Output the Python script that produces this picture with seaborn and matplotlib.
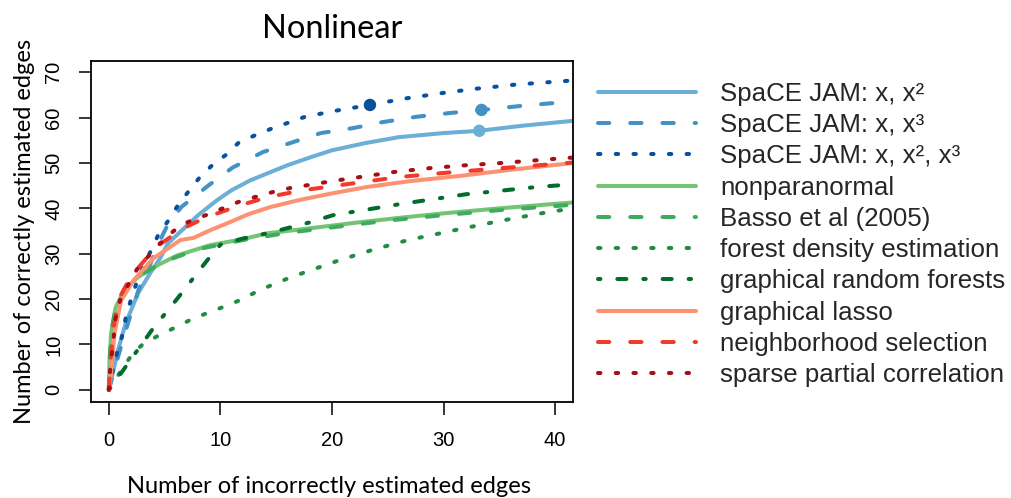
import matplotlib
matplotlib.use("Agg")
import matplotlib.pyplot as plt
import seaborn as sns
import pandas as pd

# ---------------- data ----------------
labels = [
    "SpaCE JAM: x, x\u00b2",
    "SpaCE JAM: x, x\u00b3",
    "SpaCE JAM: x, x\u00b2, x\u00b3",
    "nonparanormal",
    "Basso et al (2005)",
    "forest density estimation",
    "graphical random forests",
    "graphical lasso",
    "neighborhood selection",
    "sparse partial correlation",
]

jam_x2_x = [0, 0.2, 0.8, 1.5, 2.6, 3.75, 4.6, 5.3, 6.7, 8, 9.7, 11, 12.7, 14.5, 16, 18, 20, 23, 26, 30, 33.2, 37, 41.6]
jam_x2_y = [0, 2, 8.6, 14.6, 21.2, 25.9, 29, 32.3, 35.5, 38.5, 41.8, 44, 46.2, 48, 49.5, 51.2, 52.8, 54.4, 55.7, 56.6, 57.1, 58.2, 59.3]

jam_x3_x = [0, 0.5, 1.5, 2.7, 3.6, 4.4, 5.3, 6.5, 8.9, 11.1, 13.8, 16.5, 19, 21.9, 24.5, 27.6, 30.5, 33.4, 37, 41.6]
jam_x3_y = [0, 4.5, 13, 22.3, 27, 32, 36.5, 40.3, 45, 49, 52.4, 54.6, 56.6, 57.7, 59, 60.2, 61, 61.7, 62.6, 63.6]

jam_x23_x = [0, 0.35, 0.7, 1.15, 1.5, 1.9, 2.4, 3.0, 3.7, 4.4, 5.3, 6.2, 7.1, 8.1, 9.3, 10.5, 11.6, 13, 14.5, 16.1, 17.6, 20.5, 23.4, 26.5, 30.1, 33, 36.5, 41.6]
jam_x23_y = [0, 4.2, 7.9, 11.5, 15.7, 19.2, 23, 26.8, 30.3, 34, 37.2, 40.7, 43.6, 46.7, 49.6, 51.8, 54.4, 56, 57.5, 58.9, 60.2, 61.6, 62.8, 64.2, 65.5, 66.4, 67.3, 68.2]

npn_x = [0, 0.05, 0.2, 0.6, 1.35, 2.6, 4, 6.1, 9.1, 12, 14.2, 18, 22, 26, 30, 35, 41.6]
npn_y = [0, 6, 12.4, 18.1, 21.9, 24.8, 27, 29.6, 31.9, 33.2, 34.5, 35.6, 36.8, 37.9, 38.9, 40, 41.3]

basso_x = [0, 0.1, 0.3, 0.7, 1.5, 3, 5, 8, 12, 16, 20, 25, 30, 35, 41.6]
basso_y = [0, 8, 14, 19, 22.5, 25.5, 28.3, 31, 33, 34.6, 35.8, 37.3, 38.5, 39.6, 40.8]

fde_x = [0, 1.1, 2, 3.1, 4.5, 6, 7.3, 8.8, 10.3, 11.8, 13.3, 14.7, 16.3, 17.8, 20.7, 23.7, 26.8, 29.9, 31.4, 35, 39.2, 41.6]
fde_y = [0, 4.2, 7.5, 10.2, 12, 13.8, 15.4, 16.9, 18.3, 19.8, 21.7, 23.2, 24.8, 26.1, 28.6, 30.9, 33, 34.6, 35.4, 37.2, 39.1, 40]

grf_x = [0, 1.25, 3.9, 6.2, 8.8, 10, 12.1, 14.2, 18, 20.1, 26, 32, 38.3, 41.6]
grf_y = [0, 4.2, 13.3, 20.3, 28.5, 32, 33.4, 34.5, 36.9, 38.5, 40.9, 43.1, 44.7, 45.3]

glasso_x = [0, 0.2, 0.5, 1.1, 2.2, 4, 6.4, 7.6, 9.1, 10.6, 12.5, 14.5, 17, 20, 23.1, 27, 32, 36, 41.6]
glasso_y = [0, 3.5, 12.4, 19.7, 24.1, 29, 33, 33.5, 35.2, 36.7, 38.7, 40.3, 41.8, 43.3, 44.7, 46, 47.3, 48.5, 50]

nbs_x = [0, 0.2, 0.5, 1, 1.7, 2.5, 4.2, 6.5, 8.7, 11.8, 14.3, 17.4, 20.1, 23, 26, 30, 34.4, 38, 41.6]
nbs_y = [0, 8, 15, 20.5, 23.7, 26.5, 31.4, 35.4, 38, 40.7, 42.5, 44, 44.9, 45.9, 46.9, 47.8, 48.7, 49.4, 50.1]

spc_x = [0, 0.1, 0.45, 0.6, 1, 1.7, 2.5, 3.6, 4.6, 5.8, 7.1, 8.7, 10.2, 11.6, 13.1, 14.7, 16.3, 17.8, 20, 22.5, 25.5, 28.9, 32, 35.2, 39.9, 41.6]
spc_y = [0, 4, 12, 15.7, 19.7, 23, 26.5, 29.6, 32.3, 35, 37, 38.5, 40, 41.4, 42.5, 43.6, 44.5, 45.1, 46, 46.9, 48, 48.9, 49.5, 50, 50.9, 51.2]

# highlighted points on the SpaCE JAM curves
mark_x = [33.2, 33.4, 23.4]
mark_y = [57.1, 61.7, 62.8]

xticks = [0, 10, 20, 30, 40]
yticks = [0, 10, 20, 30, 40, 50, 60, 70]

# ---------------- styles ----------------
colors = ["#6BAED6", "#4292C6", "#08519C",
          "#74C476", "#41AB5D", "#238B45", "#006D2C",
          "#FC9272", "#EF3B2C", "#A50F15"]
LW = 2.9
solid = "-"
dashed = (0, (2.8, 5.2))
dotted = (0, (0.6, 3.8))
dotdash = (0, (0.6, 4.2, 2.25, 4.2))
styles = [solid, dashed, dotted, solid, dashed, dotted, dotdash, solid, dashed, dotted]

series = [(jam_x2_x, jam_x2_y), (jam_x3_x, jam_x3_y), (jam_x23_x, jam_x23_y),
          (npn_x, npn_y), (basso_x, basso_y), (fde_x, fde_y), (grf_x, grf_y),
          (glasso_x, glasso_y), (nbs_x, nbs_y), (spc_x, spc_y)]

sns.set_theme(style="white")
plt.rcParams["font.family"] = ["Liberation Sans", "DejaVu Sans"]
plt.rcParams["lines.solid_capstyle"] = "round"
plt.rcParams["lines.dash_capstyle"] = "round"
plt.rcParams["lines.scale_dashes"] = True

fig = plt.figure(figsize=(10.11, 4.98), dpi=100)
ax = fig.add_axes([91 / 1011, 1 - 402 / 498, (573 - 91) / 1011, (402 - 60.5) / 498])

for (xs, ys), lab, col, ls in zip(series, labels, colors, styles):
    df = pd.DataFrame({"x": xs, "y": ys})
    sns.lineplot(data=df, x="x", y="y", ax=ax, color=col, linewidth=LW,
                 label=lab, errorbar=None, sort=False, legend=False)
    line = ax.lines[-1]
    line.set_linewidth(LW)
    line.set_linestyle(ls)
    line.set_dash_capstyle("round")
    line.set_solid_capstyle("round")
    line.set_dash_joinstyle("round")
    line.set_solid_joinstyle("round")

mdf = pd.DataFrame({"x": mark_x, "y": mark_y, "c": ["a", "b", "c"]})
sns.scatterplot(data=mdf, x="x", y="y", hue="c",
                palette=[colors[0], colors[1], colors[2]], s=80, linewidth=0,
                ax=ax, legend=False, zorder=5)

ax.set_xlim(-1.6, 41.6)
ax.set_ylim(-2.7, 72.6)
ax.set_xticks(xticks)
ax.set_yticks(yticks)
ax.set_xticklabels([str(t) for t in xticks])
ax.set_yticklabels([str(t) for t in yticks], rotation=90, va="center")
ax.tick_params(axis="both", which="major", length=9, width=1.1, color="black",
               labelsize=14.5, labelcolor="black", direction="out",
               bottom=True, left=True)
ax.tick_params(axis="x", pad=12)
ax.tick_params(axis="y", pad=11)
for sp in ax.spines.values():
    sp.set_visible(True)
    sp.set_color("black")
    sp.set_linewidth(1.3)

lab_font = dict(family=["Lato", "DejaVu Sans"], size=17, color="black")
ax.set_xlabel("Number of incorrectly estimated edges", **lab_font)
ax.set_ylabel("Number of correctly estimated edges", **lab_font)
ax.xaxis.set_label_coords(0.493, -0.217)
ax.yaxis.set_label_coords(-0.116, 0.5)
ax.set_title("Nonlinear", family=["Lato", "DejaVu Sans"], size=23.5, color="black", pad=16)

handles, labs = ax.get_legend_handles_labels()
leg = fig.legend(handles, labs, loc="upper left", bbox_to_anchor=(598 / 1011, 1 - 82 / 498),
                 bbox_transform=fig.transFigure, frameon=False, fontsize=18.6,
                 handlelength=3.8, handletextpad=0.93, labelspacing=0.28,
                 borderpad=0, borderaxespad=0)
for h, ls in zip(leg.get_lines(), styles):
    h.set_linewidth(LW)
    h.set_linestyle(ls)
    h.set_dash_capstyle("round")
    h.set_solid_capstyle("round")

fig.savefig("out.png", dpi=100, facecolor="white")
